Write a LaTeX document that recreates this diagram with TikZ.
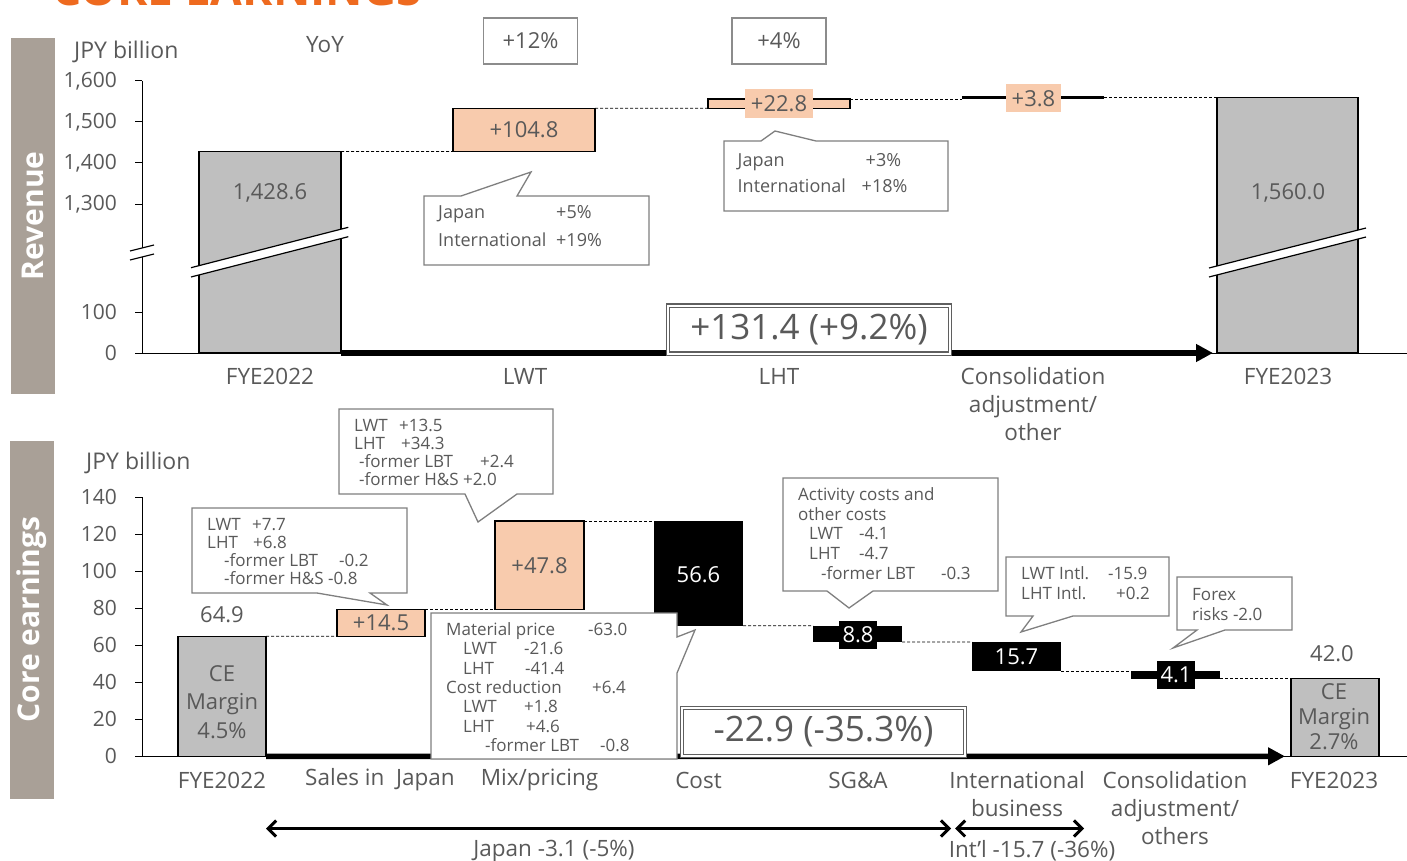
\documentclass[tikz,border=0pt]{standalone}
\usepackage{fontspec}
\setmainfont{Open Sans}
\usetikzlibrary{arrows.meta}
\definecolor{txt}{HTML}{595959}
\definecolor{peach}{HTML}{F8CBAD}
\definecolor{barg}{HTML}{BFBFBF}
\definecolor{side}{HTML}{A9A097}
\definecolor{cbord}{HTML}{7F7F7F}
\definecolor{ybord}{HTML}{8C8C8C}
\definecolor{dgray}{HTML}{5F5F5F}
\definecolor{ttl}{HTML}{EE6A1F}
\newcommand{\cl}[2]{\makebox[#1][l]{#2}}
\newcommand{\fs}[2]{\fontsize{#1}{#2}\selectfont}
\newcommand{\mkbar}[6]{%
  \pgfmathsetmacro\bcx{(#3+#5)/2}\pgfmathsetmacro\bcy{(#4+#6)/2}%
  \pgfmathsetmacro\bww{abs(#5-#3)}\pgfmathsetmacro\bhh{abs(#6-#4)}%
  \node[#2,minimum width=\bww pt,minimum height=\bhh pt,inner sep=0pt,outer sep=0pt] (#1) at (\bcx,\bcy) {};}
\begin{document}
\begin{tikzpicture}[x=1pt,y=-1pt,
  lab/.style={text=txt,font=\fs{22.5}{28},inner sep=0pt,align=center},
  val/.style={text=txt,font=\fs{22}{28},inner sep=0pt,align=center},
  wval/.style={text=white,font=\fs{22}{28},inner sep=0pt},
  tick/.style={text=txt,font=\fs{21}{25},anchor=east,inner sep=0pt},
  cbox/.style={draw=cbord,line width=1.3pt,fill=white},
  ctext/.style={text=txt,align=left,anchor=west,inner sep=0pt},
  gbar/.style={draw=black,line width=1.2pt,fill=barg},
  pbar/.style={draw=black,line width=1.2pt,fill=peach},
  kbar/.style={fill=black},
  dline/.style={black,line width=0.8pt,dash pattern=on 3pt off 2pt},
  sidelab/.style={fill=side,text=white,font=\bfseries\fs{30}{34},rotate=90,inner sep=0pt},
  dbox/.style={draw=dgray,line width=1.2pt,double=white,double distance=2pt,fill=white,text=txt,font=\fs{35}{40},inner sep=0pt},
  ybox/.style={draw=ybord,line width=1.5pt,fill=white,text=txt,font=\fs{22}{26},minimum width=94pt,minimum height=46pt,inner sep=0pt},
  brk/.style={line width=1.2pt},
  bigarrow/.style={line width=5.5pt,-{Triangle[length=17pt,width=17pt]}},
  dblarrow/.style={line width=3pt,{Straight Barb[length=8pt,width=16pt]}-{Straight Barb[length=8pt,width=16pt]}}
]
\useasboundingbox (0,0) rectangle (1407,861);
\begin{scope}
\clip (0,0) rectangle (1407,861);
\node[anchor=base west,text=ttl,font=\bfseries\fs{46}{50},inner sep=0pt] (title) at (52,6) {CORE EARNINGS};
\end{scope}

% side labels
\node[sidelab,minimum width=356pt,minimum height=44pt] (sideR) at (33,216) {Revenue};
\node[sidelab,minimum width=358pt,minimum height=44pt] (sideC) at (32,619.5) {Core earnings};

% ---------------- top panel ----------------
\node[lab,font=\fs{23}{28},anchor=west] (jpy1) at (74,52) {JPY billion};
\node[lab] (yoy) at (325,45) {YoY};
\node[ybox] (y12) at (530.5,41) {+12\%};
\node[ybox] (y4) at (779,41) {+4\%};

\draw[line width=1pt] (142,81) -- (142,353);
\foreach \y/\t in {81/{1,600},122/{1,500},163/{1,400},204/{1,300},312/100,353/0}{
  \draw[line width=1pt] (135,\y) -- (142,\y);
  \node[tick] (tt\y) at (117,\y) {\t};
}
\draw[line width=1pt] (135,353) -- (1407,353);

\mkbar{r0}{gbar}{199}{151.5}{341}{353}
\mkbar{r1}{pbar}{453}{108.3}{595}{151.5}
\mkbar{r2}{pbar}{708}{99}{850}{108.3}
\mkbar{r3}{kbar}{962}{96.3}{1104}{99.2}
\mkbar{r4}{gbar}{1217}{97.5}{1358}{353}

\draw[dline] (r0.north east) -- (r1.south west);
\draw[dline] (r1.north east) -- (r2.south west);
\draw[dline] (r2.north east) -- (r2.north east -| r3.west);
\draw[dline] (r3.east) -- (r3.east -| r4.west);

% breaks
\fill[white] (191,267.7) -- (348.3,227.3) -- (348.3,236.7) -- (191,277) -- cycle;
\draw[brk] (191,267.7) -- (348.3,227.3) (191,277) -- (348.3,236.7);
\fill[white] (1209,268) -- (1366,228) -- (1366,237) -- (1209,277) -- cycle;
\draw[brk] (1209,268) -- (1366,228) (1209,277) -- (1366,237);
\fill[white] (130,251) -- (154,245) -- (154,254) -- (130,260) -- cycle;
\draw[brk] (130,251) -- (154,245) (130,260) -- (154,254);

\draw[bigarrow,shorten >=4pt] (r0.south east) -- (r4.south west);
\node[dbox,minimum width=281.6pt,minimum height=48pt] (tot1) at (809,329.5) {+131.4 (+9.2\%)};

% values
\node[val] (r0t) at (270,193) {1,428.6};
\node[val] (r1t) at (r1) {+104.8};
\node[val,fill=peach,minimum width=68pt,minimum height=29pt] (r2t) at (779,104) {+22.8};
\node[val,fill=peach,minimum width=55pt,minimum height=28pt] (r3t) at (1033.5,98.5) {+3.8};
\node[val] (r4t) at (1288,193) {1,560.0};

% callouts top
\draw[cbox] (424,196) -- (461,196) -- (531,172) -- (517,196) -- (649,196) -- (649,265) -- (424,265) -- cycle;
\node[ctext,font=\fs{18}{27.5}] (c1t) at (438,226) {\cl{118pt}{Japan}+5\%\\\cl{118pt}{International}+19\%};
\draw[cbox] (724,141) -- (761,141) -- (775,131) -- (816,141) -- (948,141) -- (948,211) -- (724,211) -- cycle;
\node[ctext,font=\fs{18}{26}] (c2t) at (737.5,173) {\cl{128pt}{Japan}+3\%\\\cl{124pt}{International}+18\%};

% x labels top
\node[lab] (xt1) at (270,376) {FYE2022};
\node[lab] (xt2) at (525,376) {LWT};
\node[lab] (xt3) at (779,376) {LHT};
\node[lab] (xt4) at (1033,404) {Consolidation\\adjustment/\\other};
\node[lab] (xt5) at (1288,376) {FYE2023};

% ---------------- bottom panel ----------------
\node[lab,font=\fs{23}{28},anchor=west] (jpy2) at (86,463) {JPY billion};
\draw[line width=1pt] (142,497.3) -- (142,756.3);
\foreach \y/\t in {497.3/140,534.3/120,571.3/100,608.3/80,645.3/60,682.3/40,719.3/20,756.3/0}{
  \draw[line width=1pt] (135,\y) -- (142,\y);
  \node[tick] (tb\t) at (117,\y) {\t};
}
\draw[line width=1pt] (135,756.3) -- (1407,756.3);

\mkbar{b0}{gbar}{178}{636.2}{266}{756.3}
\mkbar{b1}{pbar}{337}{609.4}{425}{636.2}
\mkbar{b2}{pbar}{495}{521}{584}{609.4}
\mkbar{b3}{kbar}{654}{521}{743}{625.7}
\mkbar{b4}{kbar}{813}{625.7}{902}{642}
\mkbar{b5}{kbar}{972}{642}{1061}{671}
\mkbar{b6}{kbar}{1131}{671}{1220}{678.6}
\mkbar{b7}{gbar}{1291}{678.6}{1379}{756.3}

\draw[dline] (b0.north east) -- (b1.south west);
\draw[dline] (b1.north east) -- (b2.south west);
\draw[dline] (b2.north east) -- (b3.north west);
\draw[dline] (b3.south east) -- (b4.north west);
\draw[dline] (b4.south east) -- (b5.north west);
\draw[dline] (b5.south east) -- (b6.north west);
\draw[dline] (b6.south east) -- (b7.north west);

\draw[bigarrow,shorten >=6pt] (b0.south east) -- (b7.south west);
\node[dbox,minimum width=282.6pt,minimum height=47.6pt] (tot2) at (823.5,732) {-22.9 (-35.3\%)};

% values bottom
\node[val] (b0v) at (222,615) {64.9};
\node[val,font=\fs{22}{28.5}] (b0t) at (222,701.7) {CE\\Margin\\4.5\%};
\node[val] (b1t) at (b1) {+14.5};
\node[val] (b2t) at (b2) {+47.8};
\node[wval] (b3t) at (698.5,575) {56.6};
\node[wval,fill=black,minimum width=38pt,minimum height=28pt] (b4t) at (858,634.5) {8.8};
\node[wval] (b5t) at (1016.5,657) {15.7};
\node[wval,fill=black,minimum width=38pt,minimum height=28pt] (b6t) at (1176,675) {4.1};
\node[val] (b7v) at (1332,653.5) {42.0};
\node[val,font=\fs{22}{25}] (b7t) at (1334,716.7) {CE\\Margin\\2.7\%};

% callouts bottom
\draw[cbox] (192,508) -- (407,508) -- (407,593) -- (370,593) -- (387,605) -- (317,593) -- (192,593) -- cycle;
\node[ctext,font=\fs{17}{18}] (cb1) at (207,552) {\cl{45pt}{LWT}+7.7\\\cl{46pt}{LHT}+6.8\\\hspace*{17pt}\cl{115pt}{-former LBT}-0.2\\\hspace*{17pt}-former H\&S -0.8};

\draw[cbox] (339,409) -- (553,409) -- (553,494) -- (517,494) -- (478,522) -- (465,494) -- (339,494) -- cycle;
\node[ctext,font=\fs{17}{17.7}] (cb2) at (354,452.5) {\cl{45pt}{LWT}+13.5\\\cl{47pt}{LHT}+34.3\\\hspace*{5pt}\cl{121pt}{-former LBT}+2.4\\\hspace*{5pt}-former H\&S +2.0};

\draw[cbox] (431,613) -- (677,613) -- (677,637) -- (695,630) -- (677,673) -- (677,759) -- (431,759) -- cycle;
\node[ctext,font=\fs{17}{19.33}] (cb3) at (446,687) {\cl{142pt}{Material price}-63.0\\\hspace*{17pt}\cl{61pt}{LWT}-21.6\\\hspace*{17pt}\cl{62pt}{LHT}-41.4\\\cl{146pt}{Cost reduction}+6.4\\\hspace*{17pt}\cl{61pt}{LWT}+1.8\\\hspace*{17pt}\cl{63pt}{LHT}+4.6\\\hspace*{39pt}\cl{115pt}{-former LBT}-0.8};

\draw[cbox] (783,478) -- (998,478) -- (998,591) -- (873,591) -- (849,608) -- (827,591) -- (783,591) -- cycle;
\node[ctext,font=\fs{17}{19.75}] (cb4) at (798,533.5) {Activity costs and\\other costs\\\hspace*{11pt}\cl{50pt}{LWT}-4.1\\\hspace*{11pt}\cl{50pt}{LHT}-4.7\\\hspace*{23pt}\cl{120pt}{-former LBT}-0.3};

\draw[cbox] (1006,557) -- (1169,557) -- (1169,616) -- (1073,616) -- (1021,632) -- (1033,616) -- (1006,616) -- cycle;
\node[ctext,font=\fs{17}{20}] (cb5) at (1021,583) {\cl{87pt}{LWT Intl.}-15.9\\\cl{95pt}{LHT Intl.}+0.2};

\draw[cbox] (1177,577) -- (1292,577) -- (1292,630) -- (1225,630) -- (1173,648) -- (1197,630) -- (1177,630) -- cycle;
\node[ctext,font=\fs{17}{20}] (cb6) at (1192,605) {Forex\\risks -2.0};

% x labels bottom
\node[lab] (xb1) at (222,780) {FYE2022};
\node[lab] (xb2) at (380,780) {Sales in~ Japan};
\node[lab] (xb3) at (539.5,780) {Mix/pricing};
\node[lab] (xb4) at (698.5,780) {Cost};
\node[lab] (xb5) at (858,780) {SG\&A};
\node[lab] (xb6) at (1017,794) {International\\business};
\node[lab] (xb7) at (1175,808) {Consolidation\\adjustment/\\others};
\node[lab] (xb8) at (1334,780) {FYE2023};

% range arrows
\coordinate (ja) at (266,828.5);
\coordinate (jb) at (951,828.5);
\coordinate (ia) at (955,828.5);
\coordinate (ib) at (1084,828.5);
\draw[dblarrow] (ja) -- (jb);
\draw[dblarrow] (ia) -- (ib);
\node[lab] (jl) at (554,851) {Japan -3.1 (-5\%)};
\node[lab] (il) at (1032,851) {Int’l -15.7 (-36\%)};
\end{tikzpicture}
\end{document}
